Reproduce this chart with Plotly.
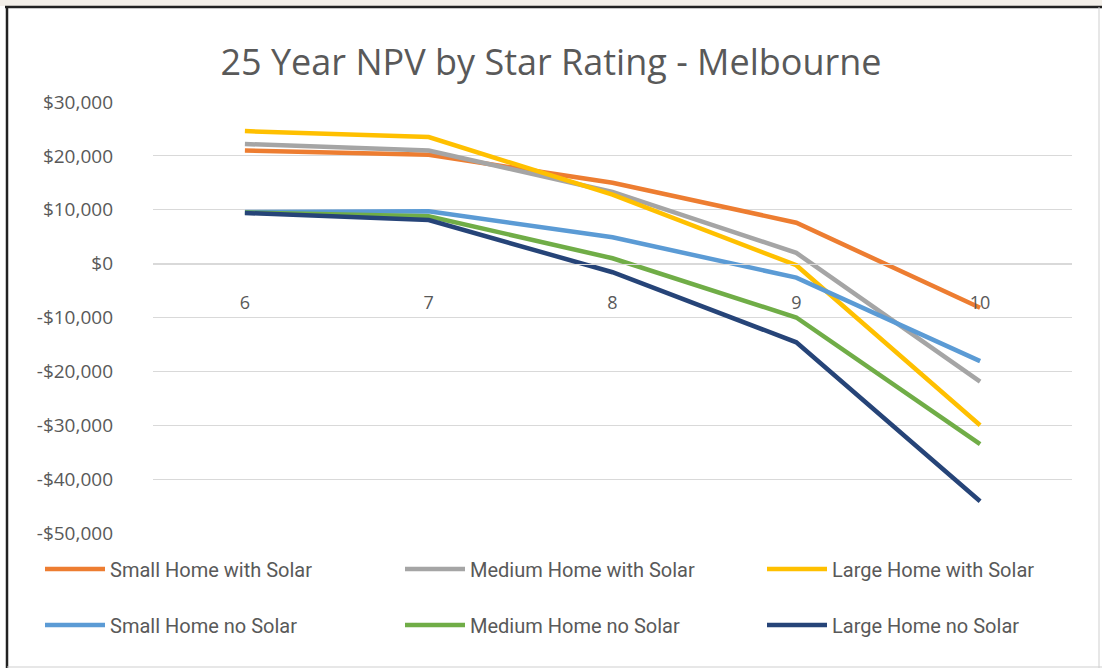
import plotly.graph_objects as go

star_ratings = ["6", "7", "8", "9", "10"]

small_solar = [21000, 20200, 15000, 7600, -8200]
medium_solar = [22200, 21000, 13300, 2000, -21900]
large_solar = [24600, 23500, 12800, -300, -30000]
small_no_solar = [9600, 9700, 4900, -2600, -18100]
medium_no_solar = [9500, 8800, 1000, -10000, -33500]
large_no_solar = [9400, 8100, -1600, -14600, -44100]

series_names = [
    "Small Home with Solar", "Medium Home with Solar", "Large Home with Solar",
    "Small Home no Solar", "Medium Home no Solar", "Large Home no Solar",
]
series_values = [small_solar, medium_solar, large_solar,
                 small_no_solar, medium_no_solar, large_no_solar]
colors = ["#ED7D31", "#A5A5A5", "#FFC000", "#5B9BD5", "#70AD47", "#264478"]

y_ticks = [30000, 20000, 10000, 0, -10000, -20000, -30000, -40000, -50000]
y_tick_text = ["$30,000", "$20,000", "$10,000", "$0", "-$10,000",
               "-$20,000", "-$30,000", "-$40,000", "-$50,000"]

W, H = 1102, 668
L, R, T, B = 153, 30, 102, 135
pw, ph = W - L - R, H - T - B


def px(x):
    return (x - L) / pw


def py(y):
    return (H - B - y) / ph


# one legend per column: small / medium / large
legend_ids = ["legend", "legend2", "legend3"]

fig = go.Figure()
for i, (name, vals, col) in enumerate(zip(series_names, series_values, colors)):
    fig.add_trace(go.Scatter(
        x=star_ratings, y=vals, name=name, mode="lines",
        line=dict(color=col, width=4.5),
        legend=legend_ids[i % 3], legendgroup=name,
    ))

text_col = "#595959"
legend_style = dict(
    orientation="v", xanchor="left", yanchor="middle", y=py(597),
    font=dict(family="Roboto, sans-serif", size=20, color=text_col),
    bgcolor="rgba(0,0,0,0)", itemwidth=60, tracegroupgap=27,
)

fig.update_layout(
    width=W, height=H,
    margin=dict(l=L, r=R, t=T, b=B),
    paper_bgcolor="white", plot_bgcolor="white",
    title=dict(text="25 Year NPV by Star Rating - Melbourne", x=0.5, xanchor="center",
               y=1 - 62 / H, yanchor="middle",
               font=dict(family="Open Sans, sans-serif", size=36, color=text_col)),
    legend=dict(x=px(40), **legend_style),
    legend2=dict(x=px(400), **legend_style),
    legend3=dict(x=px(762), **legend_style),
    xaxis=dict(
        type="category", range=[-0.5, 4.5], anchor="free", position=py(264),
        showgrid=False, showline=True, linecolor="#D9D9D9", linewidth=1,
        ticks="outside", ticklen=0, ticklabelstandoff=22,
        tickfont=dict(family="Open Sans, sans-serif", size=18, color=text_col),
        fixedrange=True,
    ),
    yaxis=dict(
        range=[-50000, 30000], tickvals=y_ticks, ticktext=y_tick_text,
        showgrid=True, gridcolor="#D9D9D9", gridwidth=1, zeroline=False,
        showline=False, ticklabelstandoff=39,
        tickfont=dict(family="Open Sans, sans-serif", size=19, color=text_col),
    ),
    shapes=[
        dict(type="rect", xref="paper", yref="paper", x0=px(0), x1=px(W), y0=py(0), y1=py(6),
             fillcolor="#F3EFE9", line=dict(width=0), layer="below"),
        dict(type="line", xref="paper", yref="paper", x0=px(5), x1=px(W), y0=py(7), y1=py(7),
             line=dict(color="#222222", width=2.5)),
        dict(type="line", xref="paper", yref="paper", x0=px(7), x1=px(7), y0=py(6), y1=py(H),
             line=dict(color="#222222", width=2.5)),
        dict(type="line", xref="paper", yref="paper", x0=px(W - 3), x1=px(W - 3), y0=py(7), y1=py(H),
             line=dict(color="#CFCFCF", width=1)),
        dict(type="line", xref="paper", yref="paper", x0=px(7), x1=px(W), y0=py(H - 1), y1=py(H - 1),
             line=dict(color="#CFCFCF", width=1)),
    ],
)

fig.write_html("out.html", config={"displayModeBar": False},
               post_script="document.body.style.margin='0';")
